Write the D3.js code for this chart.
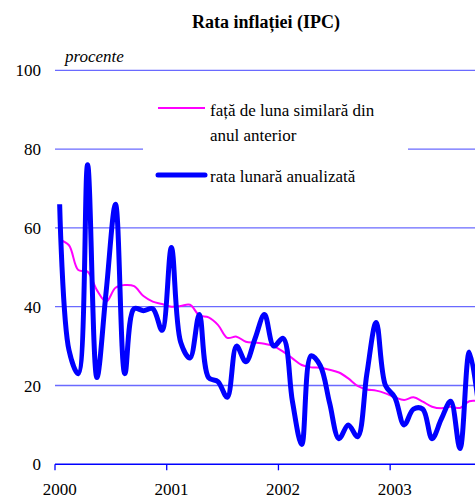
<!DOCTYPE html>
<html>
<head>
<meta charset="utf-8">
<script src="https://cdn.jsdelivr.net/npm/d3@7"></script>
<style>
  body { margin: 0; background: #fff; }
</style>
</head>
<body>
<svg id="chart" width="475" height="498"></svg>
<script>
let years = ["2000", "2001", "2002", "2003"]
let yTicks = [0, 20, 40, 60, 80, 100]

// rata lunara anualizata, Jan 2000 .. Oct 2003
let lunara = [
    66, 29, 23, 76, 22, 44, 66, 23, 39.5, 39, 39.5, 34,
    55, 31, 27, 38, 22, 21, 17, 30, 26, 32, 38, 30,
    32, 16, 5, 27.5, 25, 15.5, 6.5, 10, 7, 23, 36, 20,
    17, 10, 14, 14, 6.5, 11.5, 16, 4, 28.5, 15
]

// fata de luna similara din anul anterior
let anuala = [
    57, 55.6, 49.3, 48.9, 44.2, 41.3, 44.8, 45.5, 45.2, 42.7, 41.3, 40.7,
    40, 40.2, 40.5, 37.8, 37.3, 35.4, 32.1, 32.4, 31.1, 30.9, 30.6, 30,
    28.6, 26.9, 25.2, 24.6, 24.5, 24, 23.3, 21.8, 19.9, 19, 18.7, 18,
    17, 16.3, 17, 15.9, 14.6, 14.2, 14.6, 14.3, 16, 16
]

let months = years.flatMap(yr => d3.range(12).map(m => yr + "-" + (m + 1)))

let plotLeft = 55, plotBottom = 464.3, plotTop = 70.3
let x = d3.scaleBand().domain(months).range([plotLeft, plotLeft + 48 * 9.31])
let y = d3.scaleLinear().domain([0, 100]).range([plotBottom, plotTop])
let cx = i => x(months[i]) + x.bandwidth() / 2
let serif = "'Liberation Serif', 'Times New Roman', Times, serif"

let svg = d3.select("#chart").style("font-family", serif)

// gridlines
svg.append("g")
    .selectAll("line")
    .data(yTicks.filter(d => d > 0))
    .join("line")
    .attr("x1", plotLeft)
    .attr("x2", 475)
    .attr("y1", d => y(d))
    .attr("y2", d => y(d))
    .attr("stroke", "#6a6aff")
    .attr("stroke-width", 1.3)

// y labels
svg.append("g")
    .selectAll("text")
    .data(yTicks)
    .join("text")
    .attr("x", 41)
    .attr("y", d => y(d) + 6)
    .attr("text-anchor", "end")
    .style("font-family", serif)
    .attr("font-size", 17)
    .text(d => d)

// x axis
svg.append("line")
    .attr("x1", plotLeft).attr("x2", 475)
    .attr("y1", plotBottom).attr("y2", plotBottom)
    .attr("stroke", "#0000ff").attr("stroke-width", 1.5)

svg.append("g")
    .selectAll("line")
    .data(years)
    .join("line")
    .attr("x1", d => x(d + "-1"))
    .attr("x2", d => x(d + "-1"))
    .attr("y1", plotBottom)
    .attr("y2", plotBottom + 6)
    .attr("stroke", "#0000ff")
    .attr("stroke-width", 1.3)

svg.append("g")
    .selectAll("text")
    .data(years)
    .join("text")
    .attr("x", d => x(d + "-1") + x.bandwidth() / 2)
    .attr("y", 495)
    .attr("text-anchor", "middle")
    .style("font-family", serif)
    .attr("font-size", 17)
    .text(d => d)

// legend box (hides the 80 gridline)
svg.append("rect")
    .attr("x", 143).attr("y", 92)
    .attr("width", 265).attr("height", 96)
    .attr("fill", "#fff")

let line = d3.line()
    .x((d, i) => cx(i))
    .y(d => y(d))
    .curve(d3.curveCatmullRom.alpha(0.5))

svg.append("path")
    .datum(anuala)
    .attr("d", line)
    .attr("fill", "none")
    .attr("stroke", "#ff00ff")
    .attr("stroke-width", 2)

svg.append("path")
    .datum(lunara)
    .attr("d", line)
    .attr("fill", "none")
    .attr("stroke", "#0000ff")
    .attr("stroke-width", 5)
    .attr("stroke-linejoin", "round")

// legend
let legend = svg.append("g").attr("font-size", 17)

legend.append("line")
    .attr("x1", 158).attr("x2", 205)
    .attr("y1", 108).attr("y2", 108)
    .attr("stroke", "#ff00ff").attr("stroke-width", 2)
legend.append("text").attr("x", 210).attr("y", 116)
    .style("font-family", serif)
    .text("față de luna similară din")
legend.append("text").attr("x", 210).attr("y", 141)
    .style("font-family", serif)
    .text("anul anterior")

legend.append("line")
    .attr("x1", 158).attr("x2", 205)
    .attr("y1", 175).attr("y2", 175)
    .attr("stroke", "#0000ff").attr("stroke-width", 5)
    .attr("stroke-linecap", "round")
legend.append("text").attr("x", 210).attr("y", 182)
    .style("font-family", serif)
    .text("rata lunară anualizată")

// title and unit
svg.append("text")
    .attr("x", 266).attr("y", 28)
    .attr("text-anchor", "middle")
    .style("font-family", serif)
    .attr("font-size", 18).attr("font-weight", "bold")
    .text("Rata inflației (IPC)")

svg.append("text")
    .attr("x", 65).attr("y", 62)
    .style("font-family", serif)
    .attr("font-size", 17).attr("font-style", "italic")
    .text("procente")
</script>
</body>
</html>
